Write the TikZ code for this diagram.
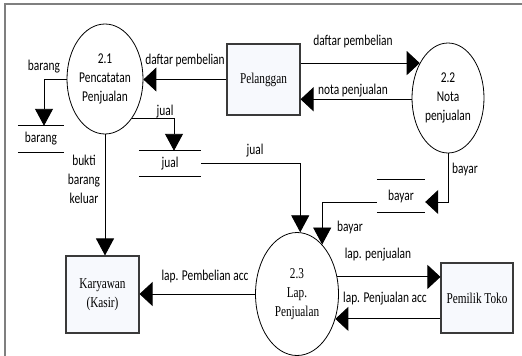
\documentclass[tikz,border=0pt]{standalone}
\usepackage{fontspec}
\newfontfamily\labfont{Carlito}[FakeStretch=0.76]
\newfontfamily\tmsfont{Liberation Serif}[FakeStretch=0.75]
\usetikzlibrary{arrows.meta,shapes.geometric}
\definecolor{framegray}{HTML}{7F7F7F}
\definecolor{boxline}{HTML}{3A3A3A}
\definecolor{boxfill}{HTML}{F7F9FD}

\tikzset{
  lab/.style={font=\labfont\fontsize{15}{19}\selectfont, inner sep=0pt, align=center},
  ser/.style={font=\tmsfont\fontsize{15}{19}\selectfont, align=center},
  entity/.style={draw=boxline, line width=1.1pt, fill=boxfill,
    minimum width=73pt, inner sep=0pt, ser},
  proc/.style={ellipse, draw=black, line width=0.8pt, fill=white, inner sep=0pt},
  store/.style={lab},
  flow/.style={line width=0.9pt},
  harr/.style={flow, -{Triangle[length=13pt,width=24pt]}},
  varr/.style={flow, -{Triangle[length=17pt,width=18pt]}},
}

\begin{document}
\begin{tikzpicture}[x=1pt, y=-1pt]
\useasboundingbox (0,0) rectangle (522,356);

% frame
\draw[framegray, line width=1.5pt] (5,356) -- (5,4) -- (522,4);

% processes
\node[proc, lab, minimum width=76pt, minimum height=110pt] (p21) at (105,79) {2.1\\Pencatatan\\Penjualan};
\node[proc, lab, minimum width=72pt, minimum height=110pt] (p22) at (448,98) {2.2\\Nota\\penjualan};
\node[proc, ser, minimum width=83pt, minimum height=123pt] (p23) at (297,294) {2.3\\Lap.\\Penjualan};

% external entities
\node[entity, minimum height=71pt] (pel) at (263.5,79.5) {Pelanggan};
\node[entity, minimum height=77pt] (kar) at (102.5,294.5) {Karyawan\\(Kasir)};
\node[entity, minimum width=72pt, minimum height=70pt] (pem) at (477,298) {Pemilik Toko};

% data stores
\node[store, minimum width=46pt, minimum height=26pt] (sbar) at (41,139) {barang};
\node[store, minimum width=62pt, minimum height=25pt] (sjual) at (170,163.5) {jual};
\node[store, minimum width=48pt, minimum height=32pt] (sbay) at (401,196) {bayar};
\foreach \s in {sbar,sjual,sbay}
  \draw[flow] (\s.north west) -- (\s.north east) (\s.south west) -- (\s.south east);

% flow labels
\node[lab] (t1) at (185,60) {daftar pembelian};
\node[lab] (t2) at (44,67) {barang};
\node[lab] (t3) at (165,112) {jual};
\node[lab] (t4) at (84,179) {bukti\\barang\\keluar};
\node[lab] (t5) at (255,151) {jual};
\node[lab] (t6) at (205,276) {lap. Pembelian acc};
\node[lab] (t7) at (353,42) {daftar pembelian};
\node[lab] (t8) at (353,91) {nota penjualan};
\node[lab] (t9) at (465,169) {bayar};
\node[lab] (t10) at (350,227) {bayar};
\node[lab] (t11) at (378,255) {lap. penjualan};
\node[lab] (t12) at (385,299) {lap. Penjualan acc};

% data flows
\draw[harr] (pel.west) -- (pel.west -| p21.east);
\draw[varr] (p21.west) -| ([xshift=3pt]sbar.north);
\draw[varr] (p21.south east) -| ([xshift=4pt]sjual.north);
\draw[varr] (p21.south) -- (p21.south |- kar.north);
\draw[varr] (sjual.east) -| (p23.87);
\draw[harr] (p22.129 -| pel.east) -- (p22.129);
\draw[harr] (p22.182) -- (p22.182 -| pel.east);
\draw[harr] (p22.south) |- ([yshift=-6pt]sbay.east);
\draw[varr] ([yshift=-6pt]sbay.west) -| (p23.63);
\draw[harr] (p23.23) -- (p23.23 -| pem.west);
\draw[harr] (p23.327 -| pem.west) -- (p23.327);
\draw[harr] (p23.west) -- (p23.west -| kar.east);
\end{tikzpicture}
\end{document}
